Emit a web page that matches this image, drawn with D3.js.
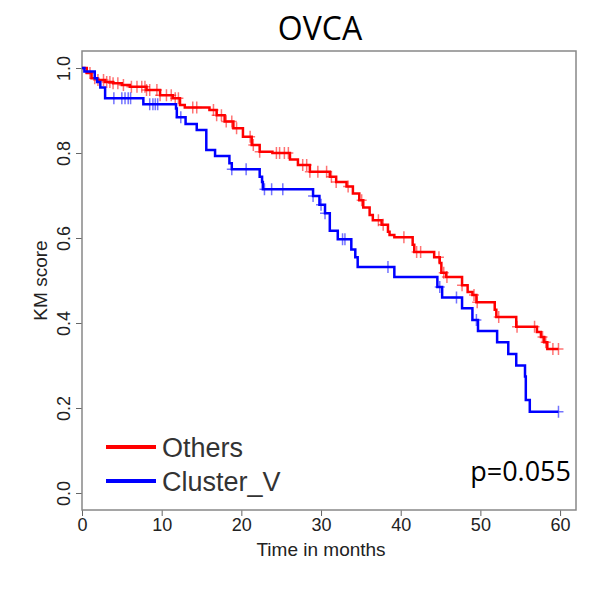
<!DOCTYPE html>
<html>
<head>
<meta charset="utf-8">
<script src="https://cdn.jsdelivr.net/npm/d3@7"></script>
<style>
  body { margin: 0; background: #fff; }
  .tick text { font-family: "Liberation Sans", Arial, sans-serif; font-size: 18px; fill: #222; }
  .tick line { stroke: #666; }
</style>
</head>
<body>
<svg class="svg-km" width="596" height="591"></svg>
<script>
// KM curve for "Others" (time in months, survival after the step)
const othersTime = [0, 0.6, 1.2, 1.9, 2.9, 3.9, 5.0, 6.0, 8.1, 9.8, 11.4, 12.3, 12.9, 16.0, 16.9, 17.9, 19.0, 20.2,
  21.3, 22.3, 23.9, 26.1, 27.1, 28.6, 31.1, 31.9, 33.2, 34.0, 34.8, 35.3, 36.1, 36.5, 37.6, 38.4, 38.6, 39.2, 41.5,
  41.7, 44.2, 44.9, 45.1, 45.7, 47.7, 48.4, 49.0, 49.5, 51.8, 52.0, 54.5, 57.1, 57.6, 58.0, 58.4, 59.8];
const othersSurv = [1.000, 0.988, 0.976, 0.972, 0.967, 0.964, 0.960, 0.956, 0.948, 0.936, 0.929, 0.913, 0.907, 0.901,
  0.889, 0.874, 0.858, 0.838, 0.819, 0.803, 0.800, 0.785, 0.772, 0.756, 0.744, 0.732, 0.721, 0.705, 0.689, 0.672,
  0.654, 0.642, 0.631, 0.615, 0.607, 0.602, 0.584, 0.567, 0.555, 0.541, 0.518, 0.508, 0.489, 0.473, 0.466, 0.449,
  0.431, 0.414, 0.391, 0.379, 0.367, 0.355, 0.339, 0.339];
const othersCensor = [1.0, 1.6, 2.0, 2.7, 3.1, 3.5, 3.9, 4.5, 5.2, 6.2, 6.9, 7.5, 7.9, 8.1, 8.5, 9.4, 9.8, 10.6, 11.2,
  11.7, 12.1, 13.9, 14.4, 16.5, 16.9, 17.5, 18.1, 18.8, 19.4, 21.1, 21.5, 22.3, 24.4, 24.8, 25.4, 25.9, 27.7, 28.2,
  28.6, 29.6, 30.7, 31.3, 31.9, 33.4, 35.1, 37.2, 37.8, 40.4, 42.0, 42.5, 44.8, 45.4, 45.8, 47.7, 49.2, 49.6, 52.3,
  54.6, 56.8, 57.8, 58.2, 59.1, 59.8];

// KM curve for "Cluster_V"
const clusterTime = [0, 0.3, 1.6, 1.9, 2.3, 2.9, 7.7, 11.8, 11.9, 13.0, 14.4, 15.6, 16.7, 18.5, 18.8, 22.3, 22.6, 22.7,
  29.0, 29.8, 30.5, 31.1, 32.1, 33.8, 34.3, 34.6, 39.2, 44.6, 45.2, 47.7, 49.0, 49.7, 52.1, 53.5, 54.5, 55.6, 55.7,
  56.2, 59.8];
const clusterSurv = [1.0, 0.992, 0.976, 0.967, 0.954, 0.929, 0.915, 0.905, 0.884, 0.868, 0.854, 0.807, 0.793, 0.776,
  0.762, 0.744, 0.732, 0.715, 0.699, 0.678, 0.658, 0.617, 0.597, 0.573, 0.555, 0.532, 0.508, 0.485, 0.460, 0.435,
  0.407, 0.381, 0.355, 0.327, 0.300, 0.274, 0.219, 0.191, 0.191];
const clusterCensor = [4.0, 5.0, 5.4, 5.8, 6.1, 8.5, 8.9, 9.2, 9.5, 12.4, 18.8, 20.6, 22.9, 23.8, 25.2, 29.0, 30.0,
  30.5, 32.7, 33.0, 38.4, 44.9, 47.0, 49.5, 59.8];

const xTicks = [0, 10, 20, 30, 40, 50, 60];
const yTicks = [0.0, 0.2, 0.4, 0.6, 0.8, 1.0];
const legendLabels = ["Others", "Cluster_V"];
const legendColors = ["#ff0000", "#0000ff"];
const pValue = "p=0.055";
const title = "OVCA";

var svg = d3.select(".svg-km");
var margin = { top: 51, right: 20, bottom: 81, left: 82 };
var width = +svg.attr("width") - margin.left - margin.right;
var height = +svg.attr("height") - margin.top - margin.bottom;

var x = d3.scaleLinear().domain([0, 62]).range([0, width]);
var y = d3.scaleLinear().domain([-0.04, 1.04]).range([height, 0]);

svg.append("text")
  .attr("x", 320).attr("y", 40)
  .attr("text-anchor", "middle")
  .style("font-family", "'Open Sans', sans-serif")
  .style("font-size", "32px")
  .text(title);

var g = svg.append("g")
  .attr("transform", "translate(" + margin.left + "," + margin.top + ")");

// axes
var xAxis = g.append("g")
  .attr("transform", "translate(0," + height + ")")
  .call(d3.axisBottom(x).tickValues(xTicks).tickSize(6).tickPadding(4));
xAxis.select(".domain").remove();
xAxis.selectAll(".tick text").attr("dy", 0).attr("y", 21);

var yAxis = g.append("g")
  .call(d3.axisLeft(y).tickValues(yTicks).tickSize(6).tickFormat(d3.format(".1f")));
yAxis.select(".domain").remove();
yAxis.selectAll(".tick text")
  .attr("transform", "rotate(-90)")
  .attr("x", 0).attr("y", -12).attr("dy", 0)
  .attr("text-anchor", "middle");

g.append("rect")
  .attr("width", width).attr("height", height)
  .attr("fill", "none").attr("stroke", "#888").attr("stroke-width", 1.5);

svg.append("text")
  .attr("x", margin.left + x(30)).attr("y", 556)
  .attr("text-anchor", "middle")
  .style("font-family", "'Liberation Sans', Arial, sans-serif")
  .style("font-size", "19px").style("fill", "#222")
  .text("Time in months");

svg.append("text")
  .attr("transform", "translate(47," + (margin.top + y(0.5)) + ") rotate(-90)")
  .attr("text-anchor", "middle")
  .style("font-family", "'Liberation Sans', Arial, sans-serif")
  .style("font-size", "19px").style("fill", "#222")
  .text("KM score");

// curves
var line = d3.line()
  .curve(d3.curveStepAfter)
  .x(function (d) { return x(d[0]); })
  .y(function (d) { return y(d[1]); });

function drawCurve(times, surv, censor, color) {
  var pts = times.map(function (t, i) { return [t, surv[i]]; });
  g.append("path")
    .datum(pts)
    .attr("fill", "none")
    .attr("stroke", color)
    .attr("stroke-width", 2.5)
    .attr("d", line);

  var bis = d3.bisector(function (d) { return d; }).right;
  g.selectAll(null)
    .data(censor)
    .enter()
    .append("path")
    .attr("d", function (t) {
      var s = surv[Math.max(0, bis(times, t) - 1)];
      var cx = x(t), cy = y(s);
      return "M" + (cx - 5) + "," + cy + "H" + (cx + 5) + "M" + cx + "," + (cy - 6) + "V" + (cy + 6);
    })
    .attr("stroke", color)
    .attr("stroke-width", 1.5)
    .attr("stroke-opacity", 0.55);
}

drawCurve(othersTime, othersSurv, othersCensor, legendColors[0]);
drawCurve(clusterTime, clusterSurv, clusterCensor, legendColors[1]);

// legend
var legend = svg.append("g").selectAll("g")
  .data(legendLabels)
  .enter()
  .append("g")
  .attr("transform", function (d, i) { return "translate(106," + (447 + i * 34) + ")"; });

legend.append("line")
  .attr("x1", 0).attr("x2", 50)
  .attr("stroke", function (d, i) { return legendColors[i]; })
  .attr("stroke-width", 4);

legend.append("text")
  .attr("x", 56).attr("y", 9.5)
  .style("font-family", "'Liberation Sans', Arial, sans-serif")
  .style("font-size", "27px").style("fill", "#333")
  .text(function (d) { return d; });

svg.append("text")
  .attr("x", 571).attr("y", 481)
  .attr("text-anchor", "end")
  .style("font-family", "'Open Sans', sans-serif")
  .style("font-size", "27px")
  .text(pValue);
</script>
</body>
</html>
